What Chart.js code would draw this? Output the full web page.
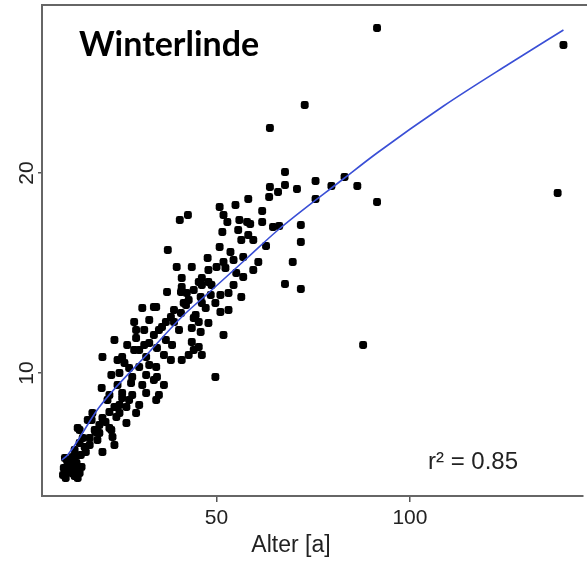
<!DOCTYPE html>
<html>
<head>
<meta charset="utf-8">
<script src="https://cdn.jsdelivr.net/npm/chart.js@4.4.1/dist/chart.umd.min.js"></script>
<style>
  body { margin: 0; background: #fff; }
  canvas { display: block; }
</style>
</head>
<body>
<canvas id="chart" width="587" height="561"></canvas>
<script>
// Alter [a] vs. Höhe
const alter = [
  91.5, 139.7, 72.8, 63.8, 67.7, 63.8, 65.9, 67.7, 70.8, 63.6, 75.6, 79.7, 83.1, 86.4, 91.5, 75.6, 138.2, 58.2,
  54.9, 50.8, 51.8, 52.8, 55.9, 57.9, 61.8, 61.8, 58.7, 40.5, 42.6, 51.5, 56.4, 58.2, 64.6, 66.2, 71.8,
  37.4, 50.8, 59.5, 62.8, 71.8, 47.7, 53.6, 54.4, 56.9, 60.8, 69.7, 59.5, 67.7, 71.8, 87.9,
  39.7, 43.6, 50.0, 52.3, 55.1, 41.0, 46.2, 47.9, 56.9, 41.0, 40.8, 46.2, 37.2, 42.3, 45.9, 48.5, 51.0, 53.1, 56.4,
  34.4, 39.0, 41.5, 46.2, 47.2, 49.7, 51.0, 44.6, 38.2, 30.8, 33.8, 42.1, 40.8, 44.1,
  28.7, 36.9, 45.4, 47.9, 29.2, 35.9, 40.3, 43.6, 45.9, 51.8, 23.6, 29.2, 32.6, 36.9, 38.5, 43.6, 45.4,
  20.5, 25.6, 28.7, 31.8, 34.6, 38.2, 41.0, 46.2, 26.2, 30.0, 34.4, 22.8, 24.9, 28.2, 31.8, 34.6, 49.7,
  24.4, 27.9, 30.8, 33.8, 20.3, 25.6, 31.8, 35.1, 25.6, 34.4, 23.6, 26.7, 30.0, 17.9, 22.3, 24.9, 29.2,
  17.7, 20.5, 24.1, 26.7, 14.1, 19.7, 22.3, 15.4, 19.7, 23.1, 23.6, 20.5, 15.9, 14.6, 13.3,
  11.3, 12.8, 11.5, 13.8, 15.1, 11.3, 12.6, 14.6, 11.0, 14.1, 12.6, 14.6,
  32.6, 31.3, 33.8, 26.9, 30.0, 36.4, 42.8, 44.1, 32.6, 36.4, 27.4, 21.8, 18.5, 17.2, 13.3, 10.8, 16.7,
  47.9, 44.1, 53.1,
  10.5, 12.05, 13.6, 10.3, 13.3, 14.9, 16.2, 17.2, 18.7, 21.3, 19.2, 22.8, 24.9, 28.2, 22.3, 24.4, 27.4,
  31.3, 35.1, 39.0, 42.8, 48.7, 54.4, 51.8, 55.6, 45.4
];
const hoehe = [
  27.25, 26.4, 23.4, 22.25, 20.05, 19.3, 19.05, 19.4, 19.2, 18.8, 19.6, 19.35, 19.8, 19.35, 18.55, 18.7, 19.0, 18.7,
  18.4, 18.3, 17.9, 17.55, 17.65, 17.55, 18.1, 17.55, 17.45, 17.65, 17.9, 17.05, 16.65, 16.9, 17.3, 17.35, 17.4,
  16.15, 16.3, 16.65, 16.35, 16.55, 15.75, 16.05, 15.65, 15.8, 15.55, 15.55, 15.15, 14.45, 14.2, 11.4,
  15.3, 15.3, 15.3, 15.25, 15.0, 14.75, 14.75, 14.55, 14.8, 14.3, 14.05, 14.4, 14.05, 14.0, 13.8, 13.9, 13.9, 14.0, 13.8,
  13.3, 13.15, 13.5, 13.5, 13.25, 13.5, 13.05, 12.9, 12.8, 13.25, 13.3, 13.4, 13.0, 12.75,
  12.55, 12.55, 12.55, 12.5, 12.15, 12.3, 12.15, 12.25, 12.05, 11.9, 11.65, 11.75, 11.5, 11.65, 11.4, 11.55, 11.3,
  10.8, 10.8, 11.15, 10.8, 11.25, 10.65, 10.65, 10.9, 10.5, 10.3, 10.3, 9.9, 10.0, 9.8, 9.9, 9.8, 9.8,
  9.4, 9.5, 9.4, 9.65, 9.25, 9.0, 9.0, 8.9, 8.75, 8.65, 8.3, 8.3, 8.4, 8.0, 8.05, 8.0, 8.0,
  7.65, 7.75, 7.8, 7.5, 7.25, 7.4, 7.25, 6.75, 7.0, 6.8, 6.4, 6.05, 6.3, 6.5, 6.15,
  5.65, 5.8, 5.4, 5.5, 5.3, 5.05, 5.0, 5.0, 4.75, 4.75, 5.35, 7.15,
  12.65, 12.15, 11.9, 11.4, 11.15, 10.9, 10.9, 11.15, 10.4, 9.4, 8.65, 8.65, 7.15, 6.4, 5.15, 5.75, 7.65,
  15.15, 14.15, 13.15,
  5.25, 5.55, 5.85, 4.9, 4.85, 5.9, 6.05, 6.75, 7.05, 7.55, 6.65, 7.15, 8.4, 8.9, 8.9, 10.65, 10.25,
  11.4, 12.15, 12.55, 13.65, 14.4, 14.4, 15.55, 17.15, 14.55
];

// fitted curve
const fitAlter = [10, 11.5, 19.7, 32.6, 41, 47.9, 58.2, 65.9, 83.1, 91.5, 108.7, 125.6, 139.7];
const fitHoehe = [5.65, 5.9, 8.3, 11.05, 12.8, 14.0, 15.8, 17.15, 19.75, 21.0, 23.35, 25.45, 27.15];

const xTicks = [50, 100];
const yTicks = [10, 20];

const points = alter.map((a, i) => ({ x: a, y: hoehe[i] }));
const fit = fitAlter.map((a, i) => ({ x: a, y: fitHoehe[i] }));

const textPlugin = {
  id: 'texts',
  afterDraw(chart) {
    const ctx = chart.ctx;
    const area = chart.chartArea;
    const ys = chart.scales.y;
    ctx.save();
    // top frame line
    ctx.strokeStyle = '#666';
    ctx.lineWidth = 2;
    ctx.beginPath();
    ctx.moveTo(area.left, area.top);
    ctx.lineTo(chart.width, area.top);
    ctx.stroke();

    ctx.fillStyle = '#222';
    // rotated y tick labels
    ctx.font = '21px "Liberation Sans", Arial, sans-serif';
    ctx.textAlign = 'center';
    ctx.textBaseline = 'middle';
    yTicks.forEach(v => {
      ctx.save();
      ctx.translate(27, ys.getPixelForValue(v));
      ctx.rotate(-Math.PI / 2);
      ctx.fillText(String(v), 0, 0);
      ctx.restore();
    });
    // x title
    ctx.font = '23px "Liberation Sans", Arial, sans-serif';
    ctx.fillText('Alter [a]', 291, 546);
    // r²
    ctx.font = '24px "Liberation Sans", Arial, sans-serif';
    ctx.textAlign = 'left';
    ctx.fillText('r² = 0.85', 428, 462);
    // species name
    ctx.fillStyle = '#000';
    ctx.font = 'bold 34px Lato, "Open Sans", sans-serif';
    ctx.fillText('Winterlinde', 79, 45);
    ctx.restore();
  }
};

new Chart(document.getElementById('chart'), {
  type: 'scatter',
  data: {
    datasets: [
      {
        data: points,
        backgroundColor: '#000',
        borderColor: '#000',
        pointStyle: 'rectRounded',
        pointRadius: 4.6,
        pointBorderWidth: 0,
        order: 2
      },
      {
        type: 'line',
        data: fit,
        borderColor: '#3a4fd6',
        borderWidth: 1.6,
        pointRadius: 0,
        fill: false,
        cubicInterpolationMode: 'monotone',
        order: 1
      }
    ]
  },
  options: {
    responsive: false,
    animation: false,
    layout: { padding: { top: 5, right: 0, left: 0, bottom: 0 } },
    plugins: { legend: { display: false }, tooltip: { enabled: false } },
    scales: {
      x: {
        type: 'linear',
        min: 4.87,
        max: 144.6,
        afterBuildTicks: s => { s.ticks = xTicks.map(v => ({ value: v })); },
        afterFit: s => { s.height = 65; },
        grid: { drawOnChartArea: false, drawTicks: true, tickLength: 6, color: '#555', lineWidth: 1.5 },
        border: { display: true, color: '#666', width: 2 },
        ticks: { color: '#222', padding: 4, font: { family: '"Liberation Sans", Arial, sans-serif', size: 21 } }
      },
      y: {
        type: 'linear',
        min: 3.85,
        max: 28.4,
        afterBuildTicks: s => { s.ticks = yTicks.map(v => ({ value: v })); },
        afterFit: s => { s.width = 42; },
        grid: { drawOnChartArea: false, drawTicks: true, tickLength: 4, color: '#555', lineWidth: 1.5 },
        border: { display: true, color: '#666', width: 2 },
        ticks: { display: false }
      }
    }
  },
  plugins: [textPlugin]
});
</script>
</body>
</html>
